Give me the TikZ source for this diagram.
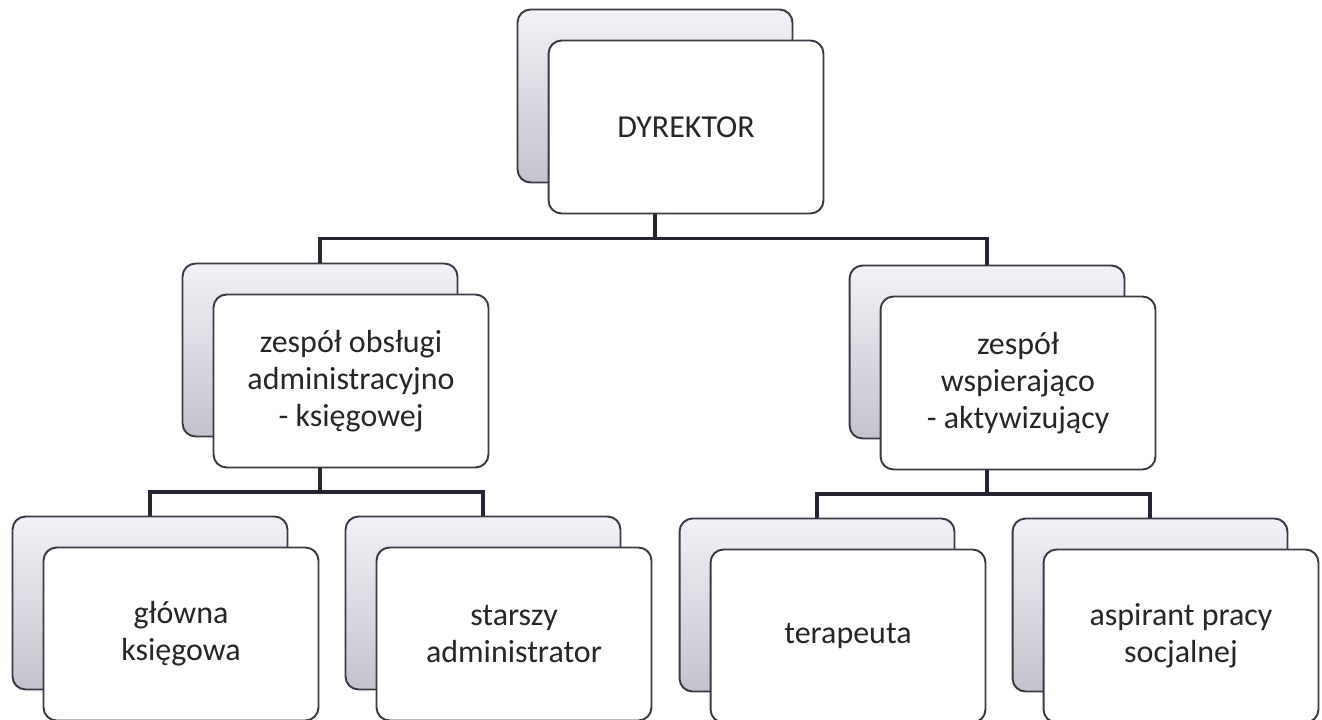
\documentclass[tikz,border=0pt]{standalone}
\usepackage{fontspec}
\setmainfont{Carlito}
\usepackage{tikz}
\usetikzlibrary{positioning,calc}
\definecolor{cardline}{RGB}{58,58,68}
\definecolor{backtop}{RGB}{243,241,247}
\definecolor{backbot}{RGB}{196,194,204}
\definecolor{conncol}{RGB}{38,38,50}
\tikzset{
  cardfront/.style={rectangle, rounded corners=0.26cm, draw=cardline, line width=1.1pt,
                    fill=white, minimum width=5.5cm, minimum height=3.46cm, inner sep=0pt,
                    align=center, font=\fontsize{18.2}{21}\selectfont, text=black!85},
  cardback/.style={rectangle, rounded corners=0.26cm, draw=cardline, line width=1.1pt,
                   top color=backtop, bottom color=backbot,
                   minimum width=5.5cm, minimum height=3.46cm, inner sep=0pt},
  conn/.style={draw=conncol, line width=2.2pt},
}

\begin{document}
\begin{tikzpicture}[x=0.02cm, y=-0.02cm]
  \useasboundingbox (0,0) rectangle (1322,720);
  % director
  \node[cardback] (dyrB) at (655,96) {};
  \node[cardfront] (dyr) at ([shift={(31,31)}]dyrB.center) {DYREKTOR};
  % teams
  \node[cardback] (adminB) at (320,350) {};
  \node[cardfront] (admin) at ([shift={(31,31)}]adminB.center) {zespół obsługi\\administracyjno\\- księgowej};
  \node[cardback] (aktywB) at (987,352) {};
  \node[cardfront] (aktyw) at ([shift={(31,31)}]aktywB.center) {zespół\\wspierająco\\- aktywizujący};
  % staff
  \node[cardback] (ksiegB) at (150,603) {};
  \node[cardfront] (ksieg) at ([shift={(31,31)}]ksiegB.center) {główna\\księgowa};
  \node[cardback] (starszB) at (483,603) {};
  \node[cardfront] (starsz) at ([shift={(31,31)}]starszB.center) {starszy\\administrator};
  \node[cardback] (terapB) at (817,605) {};
  \node[cardfront] (terap) at ([shift={(31,31)}]terapB.center) {terapeuta};
  \node[cardback] (aspirB) at (1150,605) {};
  \node[cardfront] (aspir) at ([shift={(31,31)}]aspirB.center) {aspirant pracy\\socjalnej};
  % connectors
  \path (dyr.south) -- (adminB.north) coordinate[midway] (busA);
  \draw[conn] (dyrB |- dyr.south) -- (dyrB |- busA) -| (adminB.north);
  \draw[conn] (dyrB |- busA) -| (aktywB.north);
  \path (admin.south) -- (ksiegB.north) coordinate[midway] (busB);
  \draw[conn] (adminB |- admin.south) -- (adminB |- busB) -| (ksiegB.north);
  \draw[conn] (adminB |- busB) -| (starszB.north);
  \path (aktyw.south) -- (terapB.north) coordinate[midway] (busC);
  \draw[conn] (aktywB |- aktyw.south) -- (aktywB |- busC) -| (terapB.north);
  \draw[conn] (aktywB |- busC) -| (aspirB.north);
\end{tikzpicture}
\end{document}
